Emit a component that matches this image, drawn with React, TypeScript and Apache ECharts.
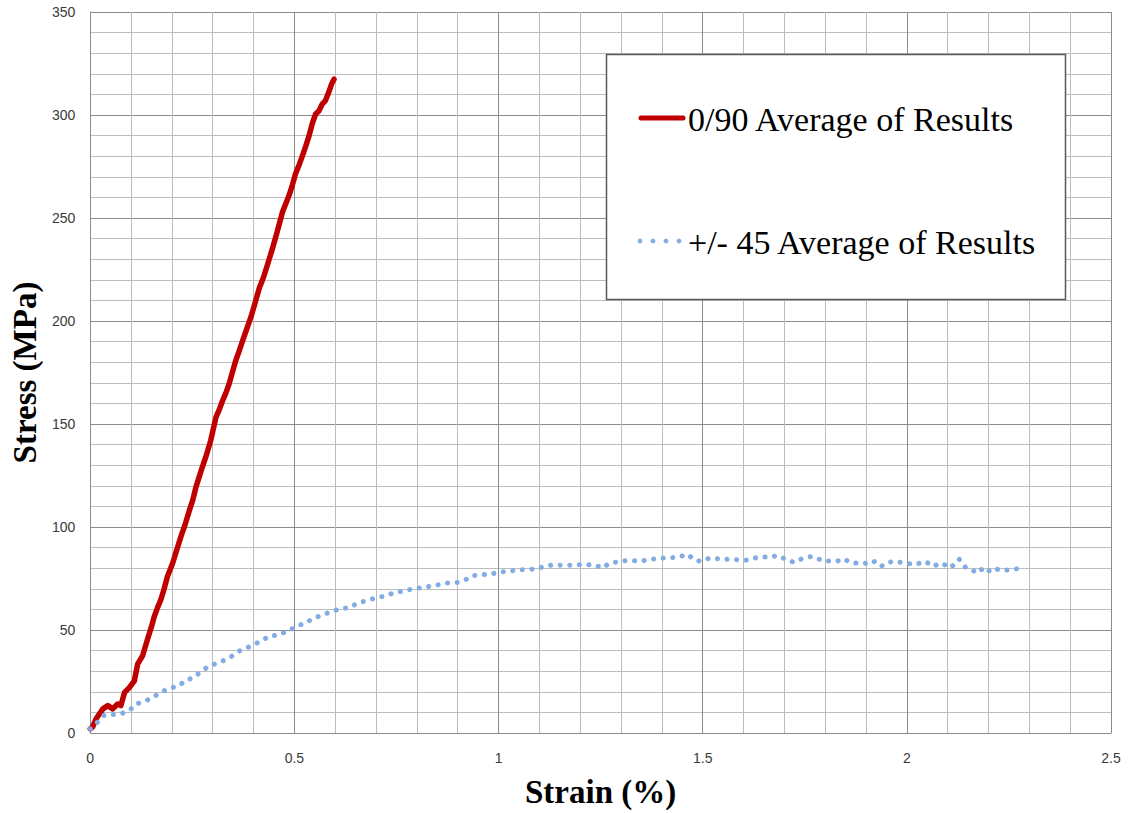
import React, { useEffect, useRef } from "react";
import * as echarts from "echarts";

const xTicks = { min: 0, max: 2.5, interval: 0.5 };
const yTicks = { min: 0, max: 350, interval: 50 };

const seriesNames = ["0/90 Average of Results", "+/- 45 Average of Results"];
const xAxisTitle = "Strain (%)";
const yAxisTitle = "Stress (MPa)";

// 0/90 average: [strain %, stress MPa]
const strain090 = [0.0, 0.006, 0.014, 0.031, 0.043, 0.055, 0.067, 0.075, 0.084, 0.096, 0.108, 0.116, 0.128, 0.141, 0.149, 0.157, 0.165, 0.173, 0.181, 0.189, 0.202, 0.212, 0.222, 0.232, 0.243, 0.251, 0.259, 0.271, 0.283, 0.295, 0.308, 0.316, 0.324, 0.332, 0.34, 0.348, 0.356, 0.364, 0.373, 0.383, 0.393, 0.404, 0.414, 0.424, 0.434, 0.446, 0.458, 0.471, 0.479, 0.487, 0.495, 0.503, 0.512, 0.52, 0.528, 0.536, 0.544, 0.552, 0.56, 0.568, 0.576, 0.584, 0.591, 0.597];
const stress090 = [2, 3, 6.8, 11.7, 13.3, 11.7, 14.1, 13.3, 19.7, 22.1, 25.3, 33.4, 37.4, 46, 51, 56.7, 61, 64.8, 70, 76, 82.5, 89, 95.3, 101, 108.2, 113, 119.5, 127, 134, 142, 153.3, 157, 161.3, 165, 169.4, 175, 180.6, 185, 190.3, 196, 201.6, 209, 216, 221, 227.3, 235, 243.4, 253, 257, 261, 266, 271.6, 276, 280.4, 285, 290, 296, 300.5, 302, 305.3, 307, 311, 315, 317.4];

// +/- 45 average
const strain45 = [0.0, 0.014, 0.031, 0.055, 0.075, 0.096, 0.112, 0.132, 0.153, 0.177, 0.202, 0.218, 0.234, 0.251, 0.271, 0.291, 0.316, 0.34, 0.365, 0.389, 0.422, 0.438, 0.458, 0.487, 0.507, 0.528, 0.548, 0.568, 0.591, 0.616, 0.638, 0.654, 0.673, 0.699, 0.719, 0.744, 0.764, 0.789, 0.805, 0.833, 0.854, 0.874, 0.899, 0.919, 0.937, 0.96, 0.976, 1.0, 1.015, 1.059, 1.091, 1.113, 1.135, 1.162, 1.195, 1.233, 1.255, 1.272, 1.31, 1.353, 1.392, 1.419, 1.446, 1.463, 1.479, 1.495, 1.517, 1.55, 1.583, 1.604, 1.637, 1.67, 1.681, 1.703, 1.724, 1.746, 1.768, 1.795, 1.828, 1.844, 1.866, 1.894, 1.91, 1.921, 1.937, 1.954, 1.97, 1.997, 2.019, 2.046, 2.063, 2.085, 2.107, 2.128, 2.145, 2.167, 2.178, 2.194, 2.21, 2.232, 2.254, 2.27];
const stress45 = [2, 4.4, 8.4, 8.9, 9.3, 10.9, 14.1, 15.2, 17.3, 20.2, 22.1, 22.9, 25.8, 26.6, 29.7, 32.6, 34.2, 36.4, 39.8, 41.8, 45.0, 47.1, 47.4, 49.8, 51.9, 53.5, 55.9, 57.1, 59.1, 60.3, 61.1, 63.1, 64.0, 65.6, 66.4, 68.0, 68.8, 69.9, 70.4, 71.2, 72.0, 72.8, 73.1, 74.4, 76.4, 76.9, 76.9, 78.0, 78.4, 79.3, 79.6, 80.9, 81.7, 81.3, 81.7, 81.7, 80.1, 82.5, 83.6, 83.6, 84.9, 84.9, 85.7, 86.8, 84.1, 83.3, 84.9, 84.4, 84.1, 83.8, 85.4, 85.4, 86.2, 84.4, 82.8, 84.9, 85.7, 83.6, 83.3, 84.6, 82.5, 82.5, 82.0, 83.3, 80.9, 82.9, 83.3, 82.5, 81.7, 83.3, 80.9, 82.5, 80.1, 84.4, 80.1, 78.4, 80.1, 77.6, 80.1, 78.9, 79.3, 79.7];

const RED = "#C00000";
const BLUE = "#82ACE4";

export default function App() {
  const ref = useRef<HTMLDivElement>(null);
  useEffect(() => {
    if (!ref.current) return;
    const chart = echarts.init(ref.current, null, { renderer: "svg" });
    const tickLabel = { color: "#3a3a3a", fontSize: 14, fontFamily: "Liberation Sans, Arial, sans-serif" };
    const titleStyle = { color: "#000", fontSize: 33, fontWeight: "bold" as const, fontFamily: "Liberation Serif, Times New Roman, serif" };
    const legendFont = "Liberation Serif, Times New Roman, serif";
    chart.setOption({
      animation: false,
      backgroundColor: "#fff",
      grid: { left: 88, top: 12, width: 1023, height: 725.5, show: false },
      xAxis: {
        type: "value",
        min: xTicks.min, max: xTicks.max, interval: xTicks.interval,
        name: xAxisTitle, nameLocation: "middle", nameGap: 42,
        nameTextStyle: titleStyle,
        axisLine: { show: true, lineStyle: { color: "#8c8c8c", width: 1 } },
        axisTick: { show: false },
        axisLabel: { ...tickLabel, margin: 18, formatter: (v: number) => String(v) },
        splitLine: { show: true, lineStyle: { color: "#8c8c8c", width: 1 } },
        minorTick: { show: false, splitNumber: 5 },
        minorSplitLine: { show: true, lineStyle: { color: "#bdbdbd", width: 1 } },
      },
      yAxis: {
        type: "value",
        min: yTicks.min, max: yTicks.max, interval: yTicks.interval,
        name: yAxisTitle, nameLocation: "middle", nameGap: 45,
        nameTextStyle: titleStyle,
        axisLine: { show: true, lineStyle: { color: "#8c8c8c", width: 1 } },
        axisTick: { show: false },
        axisLabel: { ...tickLabel, margin: 15 },
        splitLine: { show: true, lineStyle: { color: "#8c8c8c", width: 1 } },
        minorTick: { show: false, splitNumber: 5 },
        minorSplitLine: { show: true, lineStyle: { color: "#bdbdbd", width: 1 } },
      },
      series: [
        {
          name: seriesNames[0],
          type: "line",
          data: strain090.map((x, i) => [x, stress090[i]]),
          showSymbol: false,
          symbol: "none",
          lineStyle: { color: RED, width: 5.5, cap: "round", join: "round" },
          z: 3,
        },
        {
          name: seriesNames[1],
          type: "line",
          data: strain45.map((x, i) => [x, stress45[i]]),
          showSymbol: false,
          symbol: "none",
          lineStyle: { color: BLUE, width: 5, type: [0.1, 9.5], cap: "round", join: "round" },
          z: 4,
        },
      ],
      graphic: [
        {
          type: "rect",
          shape: { x: 606.5, y: 54.5, width: 459, height: 245 },
          style: { fill: "#fff", stroke: "#595959", lineWidth: 1.5 },
          z: 10,
        },
        {
          type: "line",
          shape: { x1: 641, y1: 118, x2: 683, y2: 118 },
          style: { stroke: RED, lineWidth: 5, lineCap: "round" },
          z: 11,
        },
        {
          type: "text",
          x: 688, y: 119,
          style: { text: seriesNames[0], fill: "#000", font: `34px ${legendFont}`, textVerticalAlign: "middle", verticalAlign: "middle" },
          z: 11,
        },
        ...[640, 653, 666, 679].map((cx) => ({
          type: "circle",
          shape: { cx, cy: 241, r: 2.4 },
          style: { fill: BLUE },
          z: 11,
        })),
        {
          type: "text",
          x: 688, y: 242,
          style: { text: seriesNames[1], fill: "#000", font: `34px ${legendFont}`, textVerticalAlign: "middle", verticalAlign: "middle" },
          z: 11,
        },
      ],
    });
    return () => chart.dispose();
  }, []);
  return (
    <div
      ref={ref}
      style={{ position: "fixed", left: 0, top: 0, width: 1129, height: 813, background: "#fff" }}
    />
  );
}
